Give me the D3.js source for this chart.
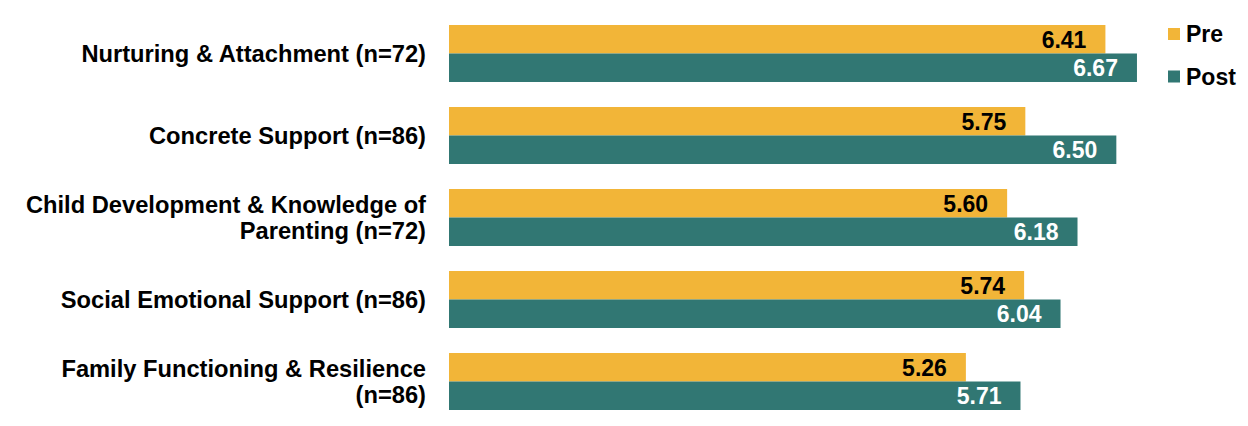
<!DOCTYPE html>
<html>
<head>
<meta charset="utf-8">
<script src="https://cdn.jsdelivr.net/npm/d3@7"></script>
<style>
  html, body { margin: 0; padding: 0; background: #fff; }
  svg { display: block; }
  text { font-family: "Liberation Sans", Arial, sans-serif; font-weight: bold; }
</style>
</head>
<body>
<svg id="chart" width="1248" height="426"></svg>
<script>
const categories = [
  ["Nurturing & Attachment (n=72)"],
  ["Concrete Support (n=86)"],
  ["Child Development & Knowledge of", "Parenting (n=72)"],
  ["Social Emotional Support (n=86)"],
  ["Family Functioning & Resilience", "(n=86)"]
];
const preValues  = [6.41, 5.75, 5.60, 5.74, 5.26];
const postValues = [6.67, 6.50, 6.18, 6.04, 5.71];
const seriesNames = ["Pre", "Post"];
const seriesColors = ["#F2B538", "#317773"];
const labelColors = ["#000000", "#ffffff"];

const svg = d3.select("#chart");
const x = d3.scaleLinear().domain([1, 7]).range([449, 1177]);
const y = d3.scaleBand().domain(d3.range(categories.length)).range([25, 410]).paddingInner(0.305).paddingOuter(0);
const sub = d3.scaleBand().domain([0, 1]).range([0, y.bandwidth()]);

const data = categories.map((c, i) => ({ i, label: c, vals: [preValues[i], postValues[i]] }));

const g = svg.append("g");
const groups = g.selectAll("g.grp").data(data).join("g")
  .attr("class", "grp")
  .attr("transform", d => `translate(0,${y(d.i)})`);

groups.each(function(d) {
  const gg = d3.select(this);
  d.vals.forEach((v, s) => {
    gg.append("rect")
      .attr("x", x(1))
      .attr("y", sub(s))
      .attr("width", x(v) - x(1))
      .attr("height", sub.bandwidth())
      .attr("fill", seriesColors[s]);
    gg.append("text")
      .attr("x", x(v) - 19)
      .attr("y", sub(s) + sub.bandwidth() / 2)
      .attr("dy", "0.36em")
      .attr("text-anchor", "end")
      .attr("font-size", 23)
      .attr("fill", labelColors[s])
      .text(v.toFixed(2));
  });
  const n = d.label.length;
  const lh = 26;
  const t = gg.append("text")
    .attr("x", 426)
    .attr("text-anchor", "end")
    .attr("font-size", 23.7)
    .attr("fill", "#000");
  d.label.forEach((line, k) => {
    t.append("tspan")
      .attr("x", 426)
      .attr("y", y.bandwidth() / 2 + (k - (n - 1) / 2) * lh)
      .attr("dy", "0.36em")
      .text(line);
  });
});

// Legend
const legend = svg.append("g").attr("transform", "translate(1168,28)");
seriesNames.forEach((name, s) => {
  const lg = legend.append("g").attr("transform", `translate(0,${s * 42.5})`);
  lg.append("rect").attr("x", 0).attr("y", 0).attr("width", 12).attr("height", 12).attr("fill", seriesColors[s]);
  lg.append("text").attr("x", 18).attr("y", 6).attr("dy", "0.36em")
    .attr("font-size", 23).attr("fill", "#000").text(name);
});
</script>
</body>
</html>
